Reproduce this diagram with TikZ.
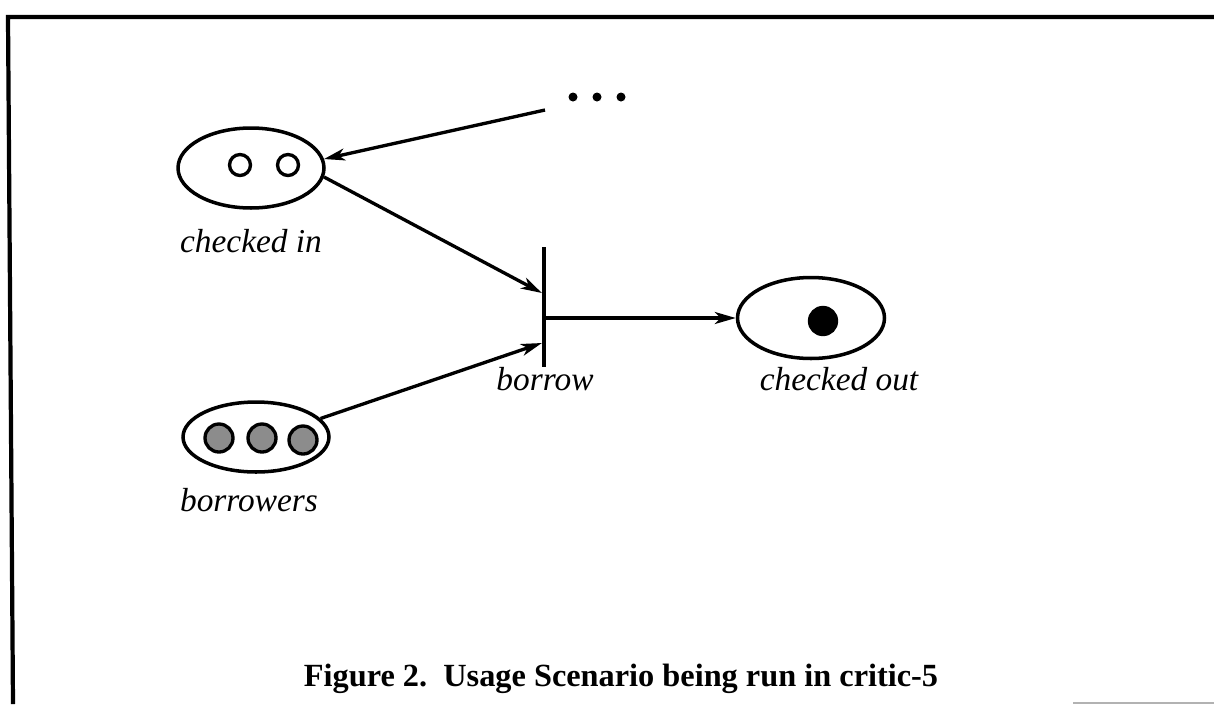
\documentclass[tikz,border=0pt]{standalone}
\usepackage{fontspec}
\setmainfont{Liberation Serif}
\usetikzlibrary{shapes.geometric,arrows.meta}

\begin{document}
\begin{tikzpicture}[
    x=0.02cm, y=-0.02cm,
    >={Stealth[length=4.2mm,width=2.4mm,inset=1.2mm]},
    place/.style={
        draw,
        ellipse,
        line width=2pt,
        inner sep=0pt,
        minimum width=2.92cm
    },
    token/.style={draw, circle, line width=1.9pt, inner sep=0pt},
    lbl/.style={font=\fontsize{19}{22}\selectfont\itshape},
    arr/.style={->, line width=1.9pt}
]
    \useasboundingbox (0,0) rectangle (1214,704);

    % frame
    \draw[line width=2.4pt] (1214,17) -- (8,17) -- (13,704);
    \draw[line width=0.8pt, gray!60] (1073,703) -- (1214,703);

    % places
    \node[place, minimum height=1.6cm] (in) at (251,168) {};
    \node[place, minimum height=1.4cm] (pool) at (256,437) {};
    \node[place, minimum width=2.94cm, minimum height=1.62cm] (out) at (811,318) {};

    % tokens
    \node[token, minimum size=0.42cm] (in-a) at (240,165) {};
    \node[token, minimum size=0.42cm] (in-b) at (288,165) {};
    \node[token, minimum size=0.54cm, fill=black] (out-a) at (823,321) {};
    \node[token, minimum size=0.56cm, fill=black!45] (pool-a) at (219,438) {};
    \node[token, minimum size=0.56cm, fill=black!45] (pool-b) at (262,438) {};
    \node[token, minimum size=0.56cm, fill=black!45] (pool-c) at (303,440) {};

    % more net
    \foreach \x in {573,597,621}
        \fill (\x,97) circle (0.09cm);
    \coordinate (more) at (545,110);

    % transition
    \node[fill=black, inner sep=0pt, minimum width=0.07cm,
        minimum height=2.42cm] (borrow) at (544,307) {};
    \coordinate (t-in1) at (borrow.west |- 0,293);
    \coordinate (t-in2) at (borrow.west |- 0,343);
    \coordinate (t-out) at (borrow.east |- 0,318);

    % labels
    \node[lbl] (in-lbl) at (251,241) {checked in};
    \node[lbl] (pool-lbl) at (249,500) {borrowers};
    \node[lbl] (borrow-lbl) at (545,379) {borrow};
    \node[lbl] (out-lbl) at (839,379) {checked out};
    \node[font=\fontsize{18.4}{22}\selectfont\bfseries, anchor=base] (caption)
        at (621,686) {Figure 2.\ \ Usage Scenario being run in critic-5};

    \draw[arr] (more) -- (in.7);
    \draw[arr] (in.-7) -- (t-in1);
    \draw[arr] (pool.16) -- (t-in2);
    \draw[arr] (t-out) -- (out.west);
\end{tikzpicture}
\end{document}
